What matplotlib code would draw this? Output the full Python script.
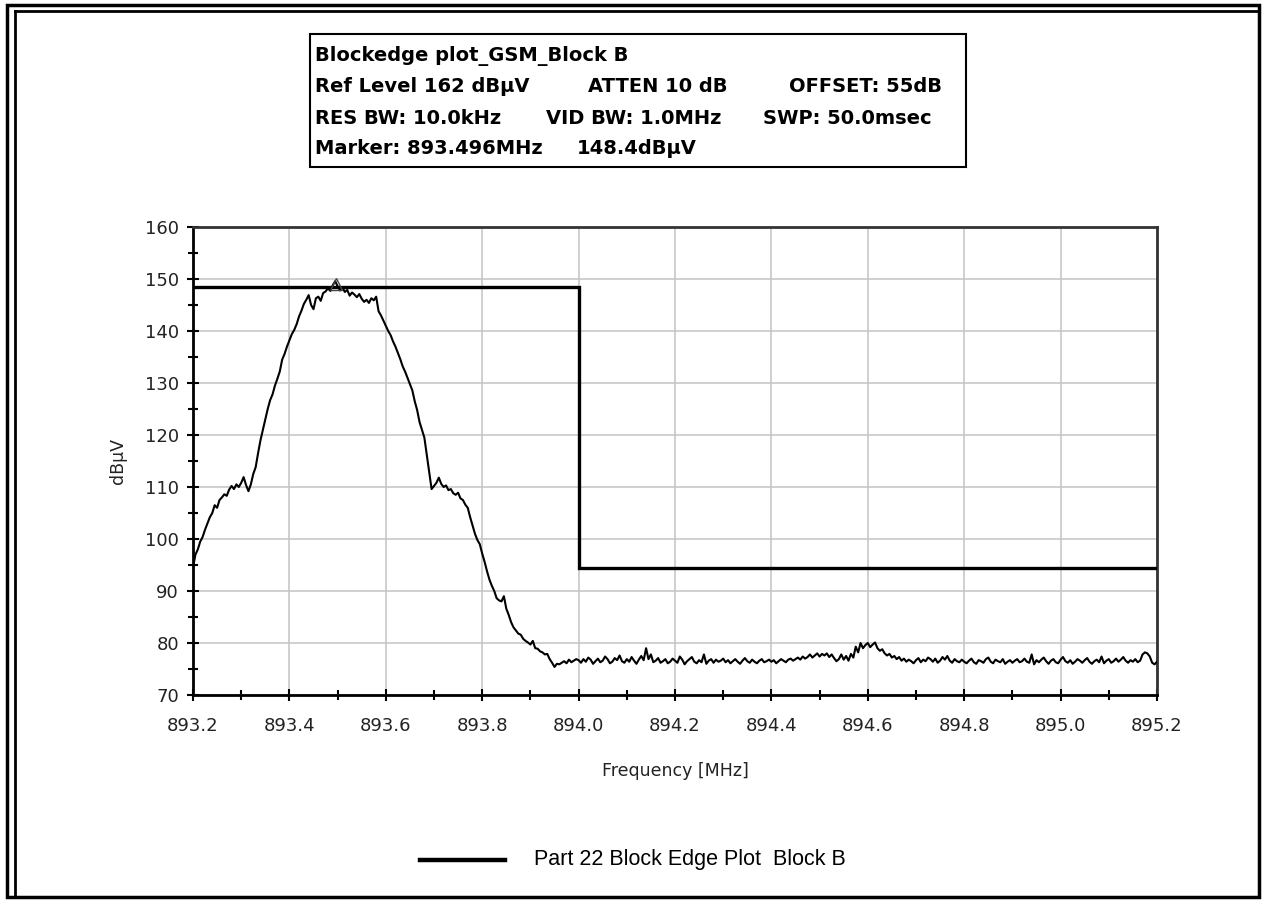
import numpy as np
import matplotlib
matplotlib.use("Agg")
import matplotlib.pyplot as plt
from matplotlib.lines import Line2D
from matplotlib.patches import Rectangle
from matplotlib.ticker import MultipleLocator, FormatStrFormatter

# sweep: 401 points, 893.2 .. 895.2 MHz
f_start, f_stop, n_pts = 893.2, 895.2, 401

# measured level, dBuV (signal region 893.200 .. 893.995)
level_signal = [
    94.5, 97.0, 98.0, 99.5, 100.4, 101.8, 103.0, 104.2, 105.0, 106.5,
    106.0, 107.5, 108.0, 108.6, 108.3, 109.5, 110.2, 109.6, 110.5, 110.0,
    110.8, 111.9, 110.4, 109.2, 110.5, 112.5, 113.8, 116.5, 119.0, 121.0,
    123.0, 125.0, 126.7, 127.8, 129.5, 130.8, 132.2, 134.5, 135.6, 137.0,
    138.2, 139.4, 140.2, 141.3, 142.8, 143.9, 145.2, 146.0, 146.9, 145.0,
    144.2, 146.3, 146.6, 145.8, 147.3, 147.6, 148.2, 147.7, 148.8, 149.6,
    148.6, 147.8, 148.4, 147.5, 147.9, 146.8, 147.4, 147.0, 146.5, 147.1,
    146.2, 145.6, 146.0, 145.4, 146.3, 145.9, 146.6, 143.8, 143.0, 142.0,
    141.0, 140.0, 139.2, 138.0, 137.0, 135.8, 134.6, 133.2, 132.2, 131.0,
    129.8, 128.6, 126.5, 124.8, 122.5, 121.0, 119.5, 116.2, 112.8, 109.6,
    110.2, 110.8, 111.8, 110.6, 110.0, 110.3, 109.4, 109.6, 108.8, 108.5,
    108.9, 107.8, 107.5, 106.6, 106.0, 104.2, 102.6, 101.0, 99.8, 99.0,
    97.2, 95.6, 93.8, 92.2, 91.0, 90.0, 88.6, 88.2, 88.0, 89.0,
    86.6, 85.4, 84.0, 83.0, 82.4, 81.8, 81.6, 80.8, 80.4, 80.1,
    79.7, 80.4, 79.0, 78.9, 78.4, 78.2, 77.8, 77.9, 76.9, 76.2,
    75.4, 76.0, 75.9, 76.2, 76.5, 76.1, 76.8, 76.3, 76.6, 76.9,
]

# noise floor 894.000 .. 895.200
level_floor = [
    76.7, 76.2, 76.9, 76.4, 77.2, 76.8, 76.0, 76.5, 77.0, 76.3,
    76.6, 77.4, 76.9, 76.1, 76.4, 77.1, 76.7, 77.6, 76.5, 76.2,
    76.9, 76.4, 77.3, 76.6, 76.0, 76.8, 77.5, 76.7, 79.0, 76.9,
    77.8, 76.3, 76.6, 77.1, 76.2, 76.5, 76.9, 76.1, 76.4, 77.0,
    76.6, 76.2, 77.4, 76.8, 75.9, 76.5, 76.9, 77.3, 76.4, 76.1,
    76.7, 76.3, 77.8, 76.0, 76.6, 76.9, 76.2, 76.8, 76.4, 76.6,
    77.0, 76.3, 76.7, 76.1, 76.5, 76.9, 76.4, 76.0, 76.6, 77.1,
    76.5, 76.2, 76.8, 76.4, 76.1, 76.6, 76.9, 76.3, 76.5, 76.8,
    76.4, 76.7, 76.1, 76.5, 76.9, 76.6, 76.3, 76.8, 77.0, 76.6,
    76.9, 77.2, 76.8, 77.4, 77.0, 77.3, 77.8, 77.2, 77.6, 78.0,
    77.4, 77.9, 77.6, 78.0, 77.3, 77.8, 77.1, 76.5, 76.9, 77.8,
    76.8, 77.5, 76.6, 77.9, 77.2, 79.3, 78.2, 80.0, 79.0, 79.6,
    80.0, 79.2, 79.7, 80.1, 79.0, 78.5, 78.8, 78.0, 77.6, 77.9,
    77.2, 77.5, 76.9, 77.3, 76.6, 77.0, 76.4, 76.8, 76.5, 76.1,
    76.7, 77.1, 76.3, 76.8, 76.5, 77.2, 76.9, 76.4, 77.0, 76.2,
    76.6, 77.3, 76.8, 77.5, 76.6, 76.2, 76.9, 76.5, 76.3, 76.8,
    76.4, 76.1, 76.6, 77.0, 76.3, 76.0, 76.7, 76.5, 76.2, 76.9,
    77.2, 76.4, 76.1, 76.8, 76.5, 76.3, 76.9, 76.0, 76.4, 76.7,
    76.2, 76.6, 76.9, 76.3, 76.5, 77.0, 76.4, 76.2, 77.8, 75.9,
    76.7, 76.3, 76.8, 77.2, 76.5, 76.0, 76.6, 76.9, 76.3, 76.1,
    76.8, 77.3, 76.5, 76.2, 76.7, 76.0, 76.4, 76.9, 76.6, 76.2,
    76.7, 77.1, 76.4, 76.0, 76.5, 76.8, 76.3, 77.4, 76.1, 76.6,
    76.9, 76.2, 76.5, 77.0, 76.4, 76.8, 77.3, 76.6, 76.2, 76.7,
    76.4, 76.9, 76.3, 76.6, 77.8, 78.2, 78.0, 77.4, 76.2, 75.9,
    76.4,
]

# block edge limit mask
limit_freq = [893.2, 894.0, 894.0, 895.2]
limit_level = [148.4, 148.4, 94.4, 94.4]

marker_freq, marker_level = 893.496, 148.4

# analyzer settings, one list per row (groups are spaced apart)
header_rows = [
    ["Blockedge plot_GSM_Block B"],
    ["Ref Level 162 dB\u00b5V", "ATTEN 10 dB", "OFFSET: 55dB"],
    ["RES BW: 10.0kHz", "VID BW: 1.0MHz", "SWP: 50.0msec"],
    ["Marker: 893.496MHz", "148.4dB\u00b5V"],
]
legend_label = "Part 22 Block Edge Plot  Block B"


def main():
    plt.rcParams['font.family'] = ['DejaVu Sans']

    level = np.array(level_signal + level_floor)
    freq = np.linspace(f_start, f_stop, n_pts)
    assert len(level) == n_pts

    W, H = 1267, 901
    fig = plt.figure(figsize=(W / 100, H / 100), dpi=100)
    fig.patch.set_facecolor('white')

    def px(x, y):
        return x / W, 1 - y / H

    ax = fig.add_axes([193 / W, 1 - 695 / H, (1157 - 193) / W, (695 - 227) / H])

    ax.plot(freq, level, color='black', lw=1.5, zorder=3)
    ax.plot(limit_freq, limit_level, color='black', lw=2.4, zorder=4,
            solid_joinstyle='miter')
    ax.plot([marker_freq], [marker_level + 0.6], marker='^', ms=8,
            mfc='none', mec='#444444', mew=1.0, zorder=5)

    ax.set_xlim(f_start, f_stop)
    ax.set_ylim(70, 160)
    ax.xaxis.set_major_locator(MultipleLocator(0.2))
    ax.xaxis.set_minor_locator(MultipleLocator(0.1))
    ax.yaxis.set_major_locator(MultipleLocator(10))
    ax.yaxis.set_minor_locator(MultipleLocator(5))
    ax.xaxis.set_major_formatter(FormatStrFormatter('%.1f'))

    ax.grid(True, which='major', color='#c4c4c4', lw=1.1, zorder=1)
    ax.tick_params(which='both', direction='inout', width=1.5, color='black',
                   labelsize=13, labelcolor='#222222', top=False, right=False)
    ax.tick_params(which='major', length=8)
    ax.tick_params(which='minor', length=7)
    ax.tick_params(axis='x', pad=12)
    ax.tick_params(axis='y', pad=6)

    for side in ['left', 'bottom']:
        ax.spines[side].set_linewidth(2.0)
        ax.spines[side].set_color('black')
    for side in ['top', 'right']:
        ax.spines[side].set_linewidth(2.0)
        ax.spines[side].set_color('#333333')

    ax.set_xlabel('Frequency [MHz]', fontsize=12.5, labelpad=19, color='#222222')
    ax.set_ylabel('dB\u00b5V', fontsize=12.5, labelpad=13, color='#222222')

    # header box with analyzer settings
    x0, y0 = px(310, 167)
    x1, y1 = px(966, 34)
    fig.patches.append(Rectangle((x0, y0), x1 - x0, y1 - y0, transform=fig.transFigure,
                                 fill=False, ec='black', lw=1.5))
    col_x = [[315], [315, 588, 789], [315, 546, 763], [315, 577]]
    for i, row in enumerate(header_rows):
        for j, chunk in enumerate(row):
            tx, ty = px(col_x[i][j], 56 + 31 * i)
            fig.text(tx, ty, chunk, fontsize=14, fontweight='bold',
                     va='center', ha='left')

    # legend entry
    lx0, ly = px(420, 860)
    lx1, _ = px(505, 860)
    fig.lines.append(Line2D([lx0, lx1], [ly, ly], transform=fig.transFigure,
                            color='black', lw=3.2))
    tx, _ = px(534, 860)
    fig.text(tx, ly, legend_label, fontsize=15.5, va='center', ha='left',
             family=['Liberation Sans', 'DejaVu Sans'])

    # outer frame: single line right/bottom, doubled on left/top
    fx0, fy0 = px(7, 897)
    fx1, fy1 = px(1259, 5)
    fig.patches.append(Rectangle((fx0, fy0), fx1 - fx0, fy1 - fy0,
                                 transform=fig.transFigure, fill=False,
                                 ec='black', lw=2.5))
    ix, iy = px(15, 11)
    _, by = px(15, 897)
    fig.lines.append(Line2D([ix, ix], [by, iy], transform=fig.transFigure,
                            color='black', lw=2.0))
    fig.lines.append(Line2D([ix, fx1], [iy, iy], transform=fig.transFigure,
                            color='black', lw=2.0))

    fig.savefig('out.png', dpi=100)


if __name__ == "__main__":
    main()
